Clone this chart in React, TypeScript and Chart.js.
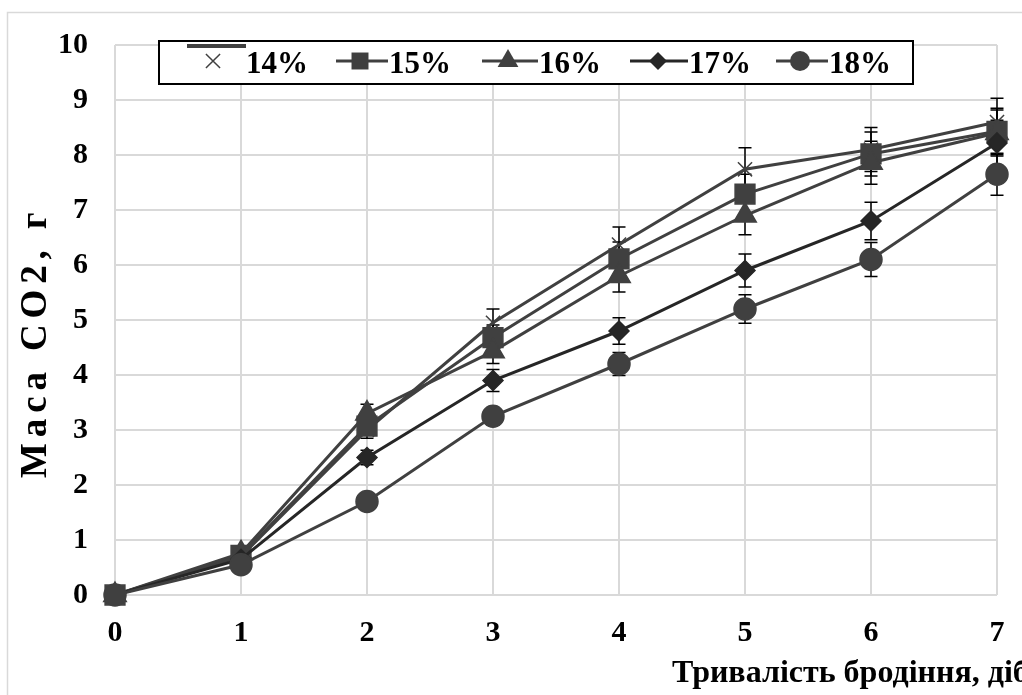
import React, { useEffect, useRef } from 'react';
import { Chart, registerables } from 'chart.js';

Chart.register(...registerables);

// Fermentation time, days
const days = [0, 1, 2, 3, 4, 5, 6, 7];
const seriesNames = ['14%', '15%', '16%', '17%', '18%'];

// CO2 mass, g
const co2_14 = [0, 0.7, 3.0, 4.95, 6.37, 7.74, 8.1, 8.6];
const co2_15 = [0, 0.72, 3.07, 4.68, 6.11, 7.29, 8.02, 8.43];
const co2_16 = [0, 0.76, 3.3, 4.43, 5.8, 6.9, 7.86, 8.4];
const co2_17 = [0, 0.65, 2.5, 3.9, 4.8, 5.9, 6.8, 8.22];
const co2_18 = [0, 0.55, 1.7, 3.25, 4.2, 5.2, 6.1, 7.65];

// error bar half-widths, g
const err_14 = [0, 0.04, 0.15, 0.25, 0.32, 0.39, 0.4, 0.43];
const err_15 = [0, 0.04, 0.15, 0.23, 0.31, 0.36, 0.4, 0.42];
const err_16 = [0, 0.04, 0.17, 0.22, 0.29, 0.35, 0.39, 0.42];
const err_17 = [0, 0.03, 0.13, 0.2, 0.24, 0.3, 0.34, 0.41];
const err_18 = [0, 0.03, 0.09, 0.16, 0.21, 0.26, 0.31, 0.38];

const xTicks = [0, 1, 2, 3, 4, 5, 6, 7];
const yTicks = [0, 1, 2, 3, 4, 5, 6, 7, 8, 9, 10];

const xTitle = 'Тривалість бродіння, діб';
const yTitle = 'Маса CO2, г';

const values = [co2_14, co2_15, co2_16, co2_17, co2_18];
const errors = [err_14, err_15, err_16, err_17, err_18];

const GRAY = '#404040';
const DARK = '#262626';
const FONT_FAMILY = '"Liberation Serif", "Times New Roman", serif';

const styles = [
  { point: 'crossRot', radius: 10, color: GRAY, width: 3 },
  { point: 'rect', radius: 14, color: GRAY, width: 3 },
  { point: 'triangle', radius: 13, color: GRAY, width: 3 },
  { point: 'rectRot', radius: 10, color: DARK, width: 3 },
  { point: 'circle', radius: 11, color: GRAY, width: 3 },
];

function drawMarker(ctx: CanvasRenderingContext2D, style: string, x: number, y: number, r: number, color: string) {
  ctx.save();
  ctx.fillStyle = color;
  ctx.strokeStyle = color;
  ctx.lineWidth = 1.5;
  ctx.beginPath();
  if (style === 'crossRot') {
    const o = r * Math.SQRT1_2;
    ctx.moveTo(x - o, y - o);
    ctx.lineTo(x + o, y + o);
    ctx.moveTo(x - o, y + o);
    ctx.lineTo(x + o, y - o);
    ctx.stroke();
  } else if (style === 'rect') {
    const s = r * Math.SQRT1_2;
    ctx.rect(x - s, y - s, 2 * s, 2 * s);
    ctx.fill();
  } else if (style === 'triangle') {
    ctx.moveTo(x, y - r);
    ctx.lineTo(x + r * Math.sin(2 * Math.PI / 3), y + r * 0.5);
    ctx.lineTo(x - r * Math.sin(2 * Math.PI / 3), y + r * 0.5);
    ctx.closePath();
    ctx.fill();
  } else if (style === 'rectRot') {
    ctx.moveTo(x - r, y);
    ctx.lineTo(x, y - r);
    ctx.lineTo(x + r, y);
    ctx.lineTo(x, y + r);
    ctx.closePath();
    ctx.fill();
  } else {
    ctx.arc(x, y, r, 0, Math.PI * 2);
    ctx.fill();
  }
  ctx.restore();
}

const frameAndTitles = {
  id: 'frameAndTitles',
  beforeDraw(chart: any) {
    const ctx = chart.ctx as CanvasRenderingContext2D;
    ctx.save();
    ctx.fillStyle = '#ffffff';
    ctx.fillRect(0, 0, chart.width, chart.height);
    ctx.strokeStyle = '#d9d9d9';
    ctx.lineWidth = 1.5;
    ctx.strokeRect(7.5, 12.5, 1300, 900);
    ctx.restore();
  },
  afterDraw(chart: any) {
    const ctx = chart.ctx as CanvasRenderingContext2D;
    ctx.save();
    ctx.fillStyle = '#000';
    ctx.font = `bold 32px ${FONT_FAMILY}`;
    ctx.textAlign = 'left';
    ctx.textBaseline = 'alphabetic';
    ctx.fillText(xTitle, 672, 682);

    // vertical axis title, spread over its span
    ctx.font = `bold 37px ${FONT_FAMILY}`;
    const span = 266;
    const plain = ctx.measureText(yTitle).width;
    const spacing = Math.max(0, (span - plain) / (yTitle.length - 1));
    ctx.translate(36, 345);
    ctx.rotate(-Math.PI / 2);
    ctx.textBaseline = 'middle';
    ctx.textAlign = 'left';
    let cx = -span / 2;
    for (const ch of yTitle) {
      ctx.fillText(ch, cx, 0);
      cx += ctx.measureText(ch).width + spacing;
    }
    ctx.restore();

    // legend box
    ctx.save();
    ctx.fillStyle = '#ffffff';
    ctx.fillRect(159, 41, 754, 43);
    ctx.strokeStyle = '#000';
    ctx.lineWidth = 2;
    ctx.strokeRect(159, 41, 754, 43);

    const ly = 61;
    // first entry: bar above the cross
    ctx.fillStyle = GRAY;
    ctx.fillRect(187, 44, 59, 4);
    drawMarker(ctx, 'crossRot', 213, ly, 10, GRAY);

    const entries = [
      { x0: 336, x1: 388, mx: 360 },
      { x0: 482, x1: 538, mx: 508 },
      { x0: 630, x1: 688, mx: 658 },
      { x0: 776, x1: 828, mx: 800 },
    ];
    entries.forEach((e, k) => {
      const st = styles[k + 1];
      ctx.strokeStyle = st.color;
      ctx.lineWidth = 3;
      ctx.beginPath();
      ctx.moveTo(e.x0, ly);
      ctx.lineTo(e.x1, ly);
      ctx.stroke();
      drawMarker(ctx, st.point, e.mx, ly, st.point === 'rect' ? 12 : st.point === 'triangle' ? 12 : st.point === 'rectRot' ? 9 : 10, st.color);
    });

    ctx.fillStyle = '#000';
    ctx.font = `bold 31px ${FONT_FAMILY}`;
    ctx.textAlign = 'left';
    ctx.textBaseline = 'alphabetic';
    const textX = [246, 389, 539, 689, 829];
    seriesNames.forEach((n, k) => ctx.fillText(n, textX[k], 73));
    ctx.restore();
  },
};

const errorBars = {
  id: 'errorBars',
  beforeDatasetsDraw(chart: any) {
    const ctx = chart.ctx as CanvasRenderingContext2D;
    const xs = chart.scales.x;
    const ys = chart.scales.y;
    ctx.save();
    ctx.strokeStyle = '#000';
    ctx.lineWidth = 1.5;
    errors.forEach((errs, i) => {
      errs.forEach((e, j) => {
        if (!e) return;
        const v = values[i][j];
        const px = xs.getPixelForValue(days[j]);
        const top = ys.getPixelForValue(v + e);
        const bot = ys.getPixelForValue(v - e);
        ctx.beginPath();
        ctx.moveTo(px, top);
        ctx.lineTo(px, bot);
        ctx.moveTo(px - 6.5, top);
        ctx.lineTo(px + 6.5, top);
        ctx.moveTo(px - 6.5, bot);
        ctx.lineTo(px + 6.5, bot);
        ctx.stroke();
      });
    });
    ctx.restore();
  },
};

export default function App() {
  const canvasRef = useRef<HTMLCanvasElement | null>(null);

  useEffect(() => {
    if (!canvasRef.current) return;
    const tickFont = { family: FONT_FAMILY, size: 30, weight: 'bold' as const };
    const chart = new Chart(canvasRef.current, {
      type: 'line',
      data: {
        datasets: values.map((vals, i) => ({
          label: seriesNames[i],
          data: days.map((d, j) => ({ x: d, y: vals[j] })),
          borderColor: styles[i].color,
          backgroundColor: styles[i].color,
          borderWidth: styles[i].width,
          pointStyle: styles[i].point as any,
          pointRadius: styles[i].radius,
          pointBorderWidth: 1.5,
          pointBorderColor: styles[i].color,
          pointBackgroundColor: styles[i].color,
          tension: 0,
          clip: false as any,
          order: 5 - i,
        })),
      },
      options: {
        animation: false,
        responsive: false,
        events: [],
        layout: { padding: { left: 0, top: 42, right: 103, bottom: 105 } },
        plugins: { legend: { display: false }, tooltip: { enabled: false } },
        scales: {
          x: {
            type: 'linear',
            min: 0,
            max: 7,
            afterBuildTicks: (s: any) => { s.ticks = xTicks.map((v) => ({ value: v })); },
            ticks: { font: tickFont, color: '#000', padding: 20 },
            grid: { color: '#d9d9d9', lineWidth: 2, drawTicks: false },
            border: { display: false },
            afterFit: (s: any) => { s.height = 60; },
          },
          y: {
            type: 'linear',
            min: 0,
            max: 10,
            afterBuildTicks: (s: any) => { s.ticks = yTicks.map((v) => ({ value: v })); },
            ticks: { font: tickFont, color: '#000', padding: 27 },
            grid: { color: '#d9d9d9', lineWidth: 2, drawTicks: false },
            border: { display: false },
            afterFit: (s: any) => { s.width = 115; },
          },
        },
      },
      plugins: [frameAndTitles, errorBars],
    });
    return () => chart.destroy();
  }, []);

  return (
    <div style={{ position: 'absolute', left: 0, top: 0, width: 1022, height: 695, overflow: 'hidden', background: '#fff' }}>
      <canvas ref={canvasRef} width={1100} height={760} style={{ position: 'absolute', left: 0, top: 0, display: 'block' }} />
    </div>
  );
}
